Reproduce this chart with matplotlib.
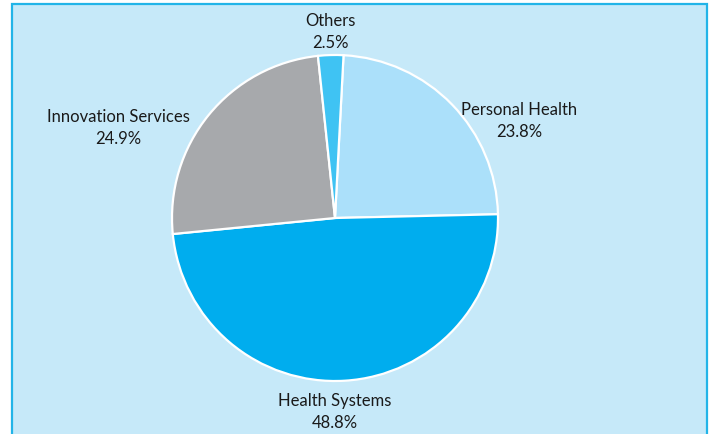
import matplotlib.pyplot as plt
from matplotlib.patches import Rectangle

plt.rcParams['font.family'] = ['Lato', 'DejaVu Sans']

sectors = ['Personal Health', 'Health Systems', 'Innovation Services', 'Others']
shares = [23.8, 48.8, 24.9, 2.5]
colors = ['#abe0fa', '#00adee', '#a7a9ac', '#3fc3f3']

# label anchor points, in pie radius units
label_pos = [(1.13, 0.60), (0.0, -1.185), (-1.33, 0.56), (-0.03, 1.147)]

fig = plt.figure(figsize=(7.13, 4.35), dpi=100)
fig.patch.set_facecolor('white')

ax = fig.add_axes([0, 0, 1, 1])
ax.set_facecolor('none')

# light blue panel with cyan border
ax.add_patch(Rectangle((12 / 713, -0.05), (707 - 12) / 713, 1.05 - 5 / 435,
                       transform=fig.transFigure, facecolor='#c6e9f9',
                       edgecolor='#22b4e8', linewidth=1.6, zorder=-5,
                       clip_on=False))

ax.pie(shares, colors=colors, startangle=87, counterclock=False, radius=1.0,
       wedgeprops=dict(edgecolor='white', linewidth=1.6))

for name, val, (x, y) in zip(sectors, shares, label_pos):
    ax.text(x, y, f'{name}\n{val}%', ha='center', va='center', fontsize=12,
            linespacing=1.45, color='#1a1a1a')

# 163 px per unit, centre at (335, 219) px
ax.set_xlim(-335 / 163, (713 - 335) / 163)
ax.set_ylim(-(435 - 219) / 163, 219 / 163)
ax.set_aspect('auto')
ax.axis('off')

fig.savefig('out.png', dpi=100)
